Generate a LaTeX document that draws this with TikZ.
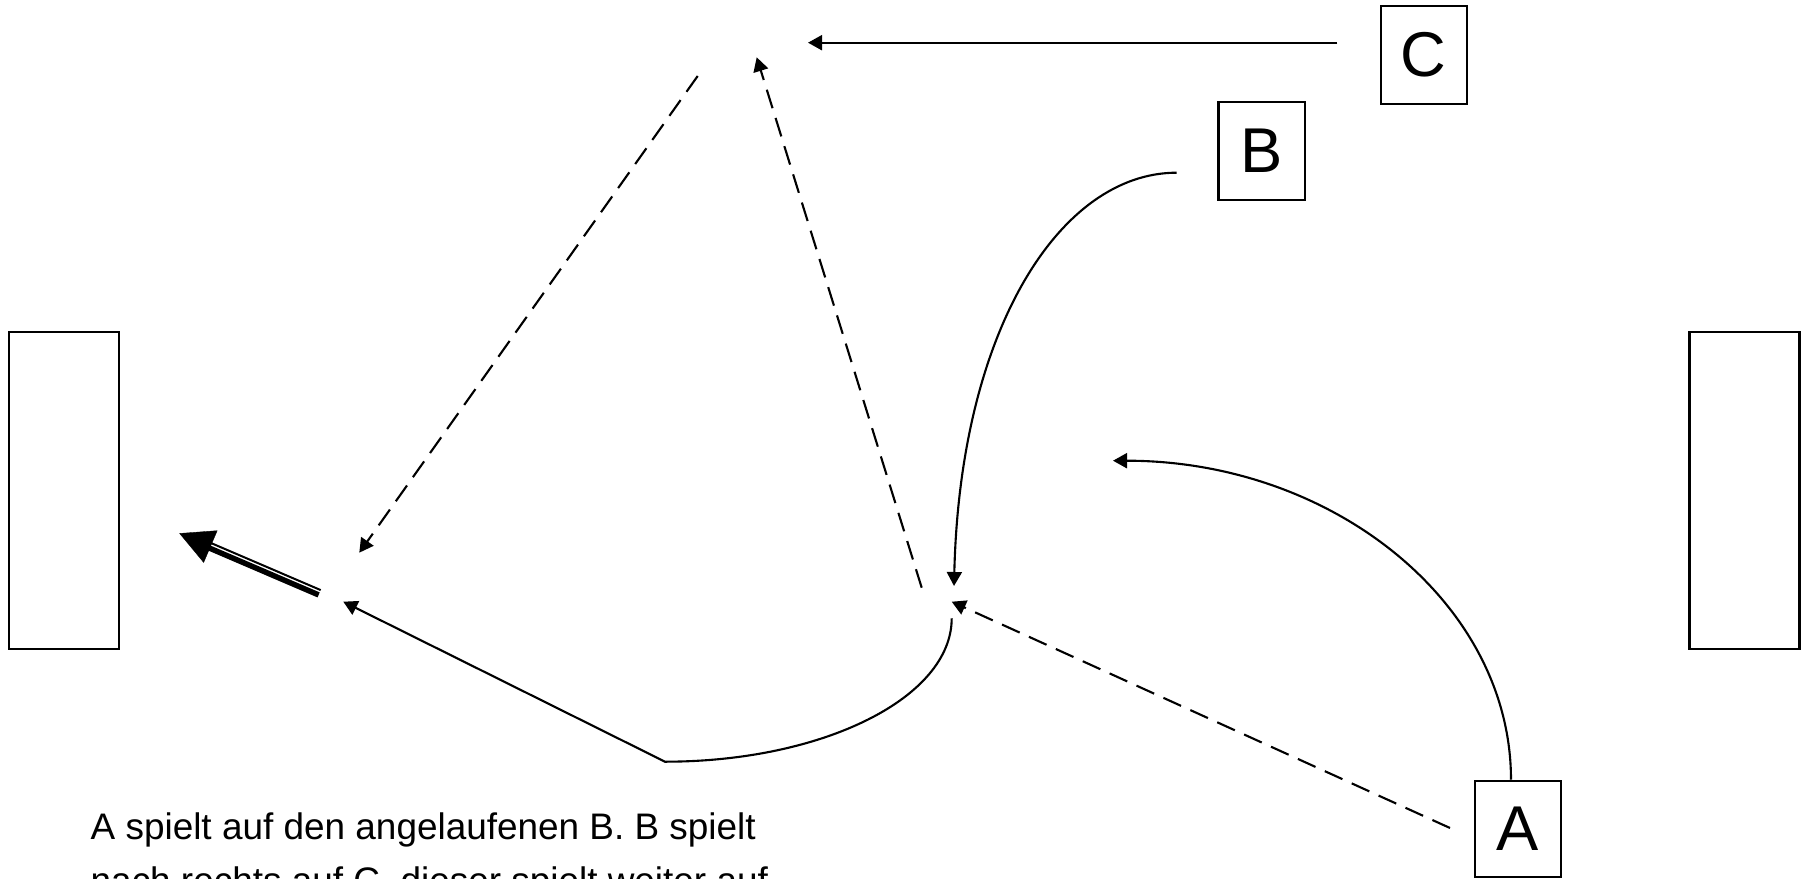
\documentclass[tikz,border=0pt]{standalone}
\usepackage{fontspec}
\setmainfont{Liberation Sans}
\usepackage{tikz}
\usetikzlibrary{arrows.meta,positioning,calc}
\tikzset{
  goalbox/.style={
    rectangle, draw, line width=0.7pt, inner sep=0pt,
    minimum width=1.10cm, minimum height=3.17cm
  },
  playerbox/.style={
    rectangle, draw, line width=0.7pt, inner sep=0pt,
    minimum width=0.86cm, minimum height=0.98cm,
    font=\fontsize{18}{20}\selectfont
  },
  passarrow/.style={-{Triangle[length=0.14cm,width=0.15cm]}, line width=0.6pt},
  dashpass/.style={passarrow, dash pattern=on 5.5pt off 2.9pt},
  shotarrow/.style={-{Triangle[length=0.34cm,width=0.35cm]}, line width=0.1pt},
}

\begin{document}
\begin{tikzpicture}[x=0.01cm, y=-0.01cm]
  \useasboundingbox (0,0) rectangle (1808,879);
  % goals and players
  \node[goalbox] (goalL) at (64,490.5) {};
  \node[goalbox] (goalR) at (1744.5,490.5) {};
  \node[playerbox] (C) at (1423.8,55) {C};
  \node[playerbox] (B) at (1261.7,151.2) {B};
  \node[playerbox, minimum height=0.96cm] (A) at (1518,829) {A};
  \node[anchor=base west, align=left, inner sep=0pt,
        font=\fontsize{10.5}{13.6}\selectfont] (note) at (90,893)
    {A spielt auf den angelaufenen B. B spielt\\[1.5pt]nach rechts auf C, dieser spielt weiter auf};
  % end points of the runs and passes
  \coordinate (cEnd) at (1337.3,42.7);
  \coordinate (cTip) at (808,42.7);
  \coordinate (bEnd) at (1176.7,172.7);
  \coordinate (bTip) at (954,586);
  \coordinate (aTip) at (1113,460.7);
  \coordinate (aPass) at (1450,828);
  \coordinate (aPassTip) at (951.7,601.7);
  \coordinate (upStart) at (921.7,587.7);
  \coordinate (upTip) at (756.7,57.3);
  \coordinate (downStart) at (697.7,76);
  \coordinate (downTip) at (359.3,552.7);
  \coordinate (dribStart) at (951.7,618.3);
  \coordinate (dribCorner) at (665,761.7);
  \coordinate (dribTip) at (343.3,601.7);
  \coordinate (shotStart) at (319.3,593.3);
  \coordinate (shotTip) at (179.3,533.3);
  \coordinate (shotBase) at (202.3,543.1);
  % runs
  \draw[passarrow] (cEnd) -- (cTip);
  \draw[passarrow] (bEnd) .. controls (1060,172.7) and (960,330) .. (bTip);
  \draw[passarrow] ([xshift=-0.07cm]A.north) .. controls (1511,603.3) and (1332.8,460.7) .. (aTip);
  \draw[passarrow] (dribStart) .. controls (951.7,697.5) and (823.3,761.7) .. (dribCorner) -- (dribTip);
  % passes
  \foreach \a/\b in {aPass/aPassTip,upStart/upTip,downStart/downTip}
    \draw[dashpass] (\a) -- (\b);
  % shot
  \draw[shotarrow] (shotBase) -- (shotTip);
  \draw[line width=1.56pt] ([shift={(-0.69,1.61)}]shotStart) -- ([shift={(-0.69,1.61)}]shotBase);
  \draw[line width=0.57pt] ([shift={(1.38,-3.22)}]shotStart) -- ([shift={(1.38,-3.22)}]shotBase);
\end{tikzpicture}
\end{document}
